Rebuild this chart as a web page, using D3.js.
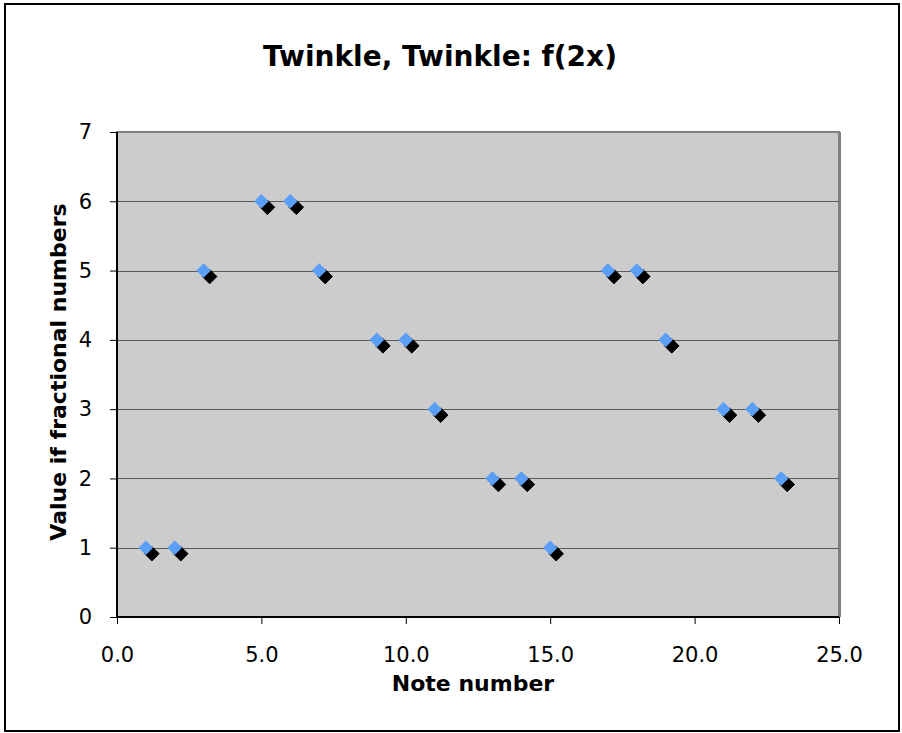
<!DOCTYPE html>
<html>
<head>
<meta charset="utf-8">
<script src="https://cdn.jsdelivr.net/npm/d3@7"></script>
<style>
  html, body { margin: 0; padding: 0; background: #fff; }
  svg { display: block; }
  text { font-family: "DejaVu Sans", Verdana, sans-serif; fill: #000; }
</style>
</head>
<body>
<svg id="chart" width="902" height="733"></svg>
<script>
// Note numbers and their values
const noteNumbers = [1, 2, 3, 5, 6, 7, 9, 10, 11, 13, 14, 15, 17, 18, 19, 21, 22, 23];
const noteValues  = [1, 1, 5, 6, 6, 5, 4, 4, 3, 2, 2, 1, 5, 5, 4, 3, 3, 2];
const xTicks = [0, 5, 10, 15, 20, 25];
const yTicks = [0, 1, 2, 3, 4, 5, 6, 7];

const titleText = "Twinkle, Twinkle: f(2x)";
const xTitle = "Note number";
const yTitle = "Value if fractional numbers";

const svg = d3.select("#chart");
const plot = { left: 117, top: 132, right: 839, bottom: 617 };

// Outer chart frame
svg.append("rect")
  .attr("x", 5).attr("y", 4)
  .attr("width", 894).attr("height", 727)
  .attr("fill", "#fff").attr("stroke", "#000").attr("stroke-width", 2);

const x = d3.scaleLinear().domain([0, 25]).range([plot.left, plot.right]);
const y = d3.scaleLinear().domain([0, 7]).range([plot.bottom, plot.top]);

// Plot area background with its border
svg.append("rect")
  .attr("x", plot.left).attr("y", plot.top)
  .attr("width", plot.right - plot.left).attr("height", plot.bottom - plot.top)
  .attr("fill", "#cccccc").attr("stroke", "#808080").attr("stroke-width", 2);
svg.append("line")
  .attr("x1", plot.right + 1).attr("x2", plot.right + 1)
  .attr("y1", plot.top).attr("y2", plot.bottom)
  .attr("stroke", "#808080").attr("stroke-width", 2);

// Horizontal gridlines
svg.append("g")
  .selectAll("line")
  .data(yTicks.filter(t => t > 0 && t < 7))
  .join("line")
  .attr("x1", plot.left).attr("x2", plot.right)
  .attr("y1", d => Math.round(y(d)) + 0.5).attr("y2", d => Math.round(y(d)) + 0.5)
  .attr("stroke", "#5a5a5a").attr("stroke-width", 1);

// Axes
const xAxis = d3.axisBottom(x).tickValues(xTicks).tickFormat(d3.format(".1f"))
  .tickSize(7).tickPadding(23);
const yAxis = d3.axisLeft(y).tickValues(yTicks).tickFormat(d3.format("d"))
  .tickSize(7).tickPadding(18);

const gx = svg.append("g").attr("transform", `translate(0,${plot.bottom})`).call(xAxis);
const gy = svg.append("g").attr("transform", `translate(${plot.left},0)`).call(yAxis);

[gx, gy].forEach(g => {
  g.attr("font-size", null).attr("font-family", null);
  g.select(".domain").attr("stroke", "#000").attr("stroke-width", 2);
  g.selectAll(".tick line").attr("stroke", "#000");
  g.selectAll(".tick text")
    .attr("font-family", "'DejaVu Sans', Verdana, sans-serif")
    .attr("font-size", 21).attr("fill", "#000");
});
gx.select(".domain").attr("d", `M${plot.left},0H${plot.right}`);
gy.select(".domain").attr("d", `M0,${plot.bottom}V${plot.top}`);

// Markers: shadow first, then blue diamond
const diamond = d3.symbol().type(d3.symbolDiamond2).size(135);
const pts = noteNumbers.map((n, i) => ({ n, v: noteValues[i] }));

svg.append("g").selectAll("path")
  .data(pts)
  .join("path")
  .attr("d", diamond)
  .attr("transform", d => `translate(${x(d.n) + 6},${y(d.v) + 6})`)
  .attr("fill", "#000").attr("stroke", "#000")
  .attr("stroke-width", 1).attr("stroke-linejoin", "round");

svg.append("g").selectAll("path")
  .data(pts)
  .join("path")
  .attr("d", diamond)
  .attr("transform", d => `translate(${x(d.n)},${y(d.v)})`)
  .attr("fill", "#5b9ef6");

// Titles
svg.append("text")
  .attr("x", 440).attr("y", 66)
  .attr("text-anchor", "middle")
  .attr("font-size", 28).attr("font-weight", "bold")
  .text(titleText);

svg.append("text")
  .attr("x", 473).attr("y", 691)
  .attr("text-anchor", "middle")
  .attr("font-size", 22).attr("font-weight", "bold")
  .text(xTitle);

svg.append("text")
  .attr("transform", `translate(66,372) rotate(-90)`)
  .attr("text-anchor", "middle")
  .attr("font-size", 22).attr("font-weight", "bold")
  .text(yTitle);
</script>
</body>
</html>
